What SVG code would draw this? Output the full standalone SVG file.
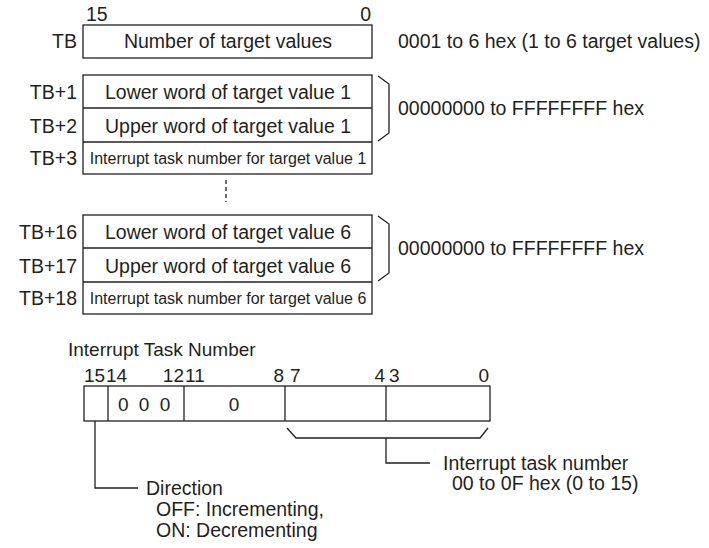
<svg xmlns="http://www.w3.org/2000/svg" width="709" height="548" viewBox="0 0 709 548">
<style>
text{font-family:"Liberation Sans",Arial,sans-serif;font-size:19.5px;fill:#231f20}
.c{text-anchor:middle}.r{text-anchor:end}
.n{font-size:16px;font-family:"Liberation Sans Narrow","Liberation Sans",sans-serif}
.sm{font-size:19px}
.nt{font-size:19.5px}
.bx,path,line{fill:none;stroke:#231f20;stroke-width:1.3}
</style>
<rect width="709" height="548" fill="#fff"/>
<g id="tb">
<text x="86" y="21">15</text><text x="371" y="21" class="r">0</text>
<text x="77" y="48" class="r">TB</text>
<rect class="bx" x="83" y="25" width="289" height="33"/>
<text x="228" y="48" class="c">Number of target values</text>
<text x="398" y="48">0001 to 6 hex (1 to 6 target values)</text>
</g>
<g id="block1">
<rect class="bx" x="83" y="75" width="289" height="99"/>
<line x1="83" y1="108" x2="372" y2="108"/><line x1="83" y1="142" x2="372" y2="142"/>
<text x="77" y="99" class="r">TB+1</text><text x="77" y="133" class="r">TB+2</text><text x="77" y="165" class="r">TB+3</text>
<text x="228" y="99" class="c">Lower word of target value 1</text>
<text x="228" y="133" class="c">Upper word of target value 1</text>
<text x="228" y="164" class="c n">Interrupt task number for target value 1</text>
<path d="M378 76 L389 84 L389 133 L378 141"/>
<text x="398" y="115">00000000 to FFFFFFFF hex</text>
</g>
<line x1="226" y1="180" x2="226" y2="202" stroke-dasharray="4,3"/>
<g id="block6">
<rect class="bx" x="83" y="215" width="289" height="99"/>
<line x1="83" y1="248" x2="372" y2="248"/><line x1="83" y1="282" x2="372" y2="282"/>
<text x="77" y="239" class="r">TB+16</text><text x="77" y="273" class="r">TB+17</text><text x="77" y="305" class="r">TB+18</text>
<text x="228" y="239" class="c">Lower word of target value 6</text>
<text x="228" y="273" class="c">Upper word of target value 6</text>
<text x="228" y="304" class="c n">Interrupt task number for target value 6</text>
<path d="M378 216 L389 224 L389 273 L378 281"/>
<text x="398" y="255">00000000 to FFFFFFFF hex</text>
</g>
<g id="bits">
<text x="68" y="356" class="sm">Interrupt  Task Number</text>
<text x="84" y="382" class="sm">15</text><text x="106" y="382" class="sm">14</text>
<text x="184" y="382" class="sm r">12</text><text x="185" y="382" class="sm">11</text>
<text x="284" y="382" class="sm r">8</text><text x="290" y="382" class="sm">7</text>
<text x="385" y="382" class="sm r">4</text><text x="389" y="382" class="sm">3</text>
<text x="489" y="382" class="sm r">0</text>
<rect class="bx" x="84" y="386" width="406" height="35"/>
<line x1="108" y1="386" x2="108" y2="421"/><line x1="184" y1="386" x2="184" y2="421"/>
<line x1="285" y1="386" x2="285" y2="421"/><line x1="386" y1="386" x2="386" y2="421"/>
<text x="118" y="411" class="sm" word-spacing="5">0 0 0</text>
<text x="234" y="411" class="sm c">0</text>
</g>
<g id="connectors">
<path d="M287 428 L296 438 L480 438 L488 428"/>
<path d="M386 438 L386 463 L430 463"/>
<path d="M95 421 L95 488 L138 488"/>
</g>
<g id="notes">
<text x="443" y="470" class="nt">Interrupt task number</text>
<text x="452" y="490" class="nt">00 to 0F hex (0 to 15)</text>
<text x="146" y="495" class="nt">Direction</text>
<text x="156" y="516" class="nt">OFF: Incrementing,</text>
<text x="156" y="537" class="nt">ON: Decrementing</text>
</g>
</svg>
